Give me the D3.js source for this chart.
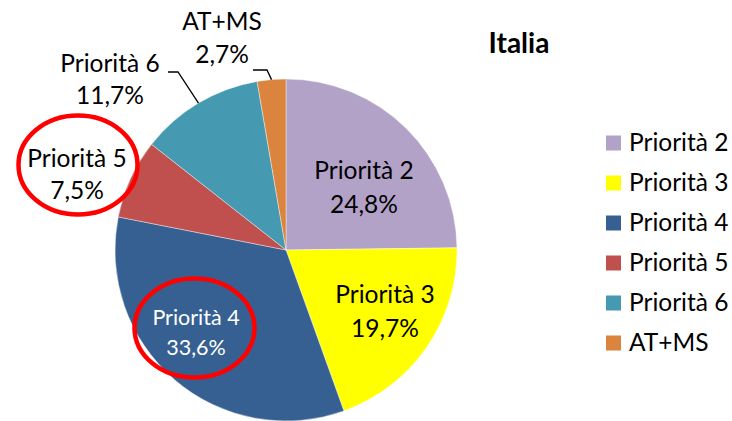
<!DOCTYPE html>
<html>
<head>
<meta charset="utf-8">
<script src="https://cdn.jsdelivr.net/npm/d3@7"></script>
<style>
  html, body { margin: 0; padding: 0; background: #fff; }
  svg { display: block; }
</style>
</head>
<body>
<script>
// chart values
const categories = ["Priorità 2", "Priorità 3", "Priorità 4", "Priorità 5", "Priorità 6", "AT+MS"];
const shares = [24.8, 19.7, 33.6, 7.5, 11.7, 2.7];
const sliceColors = ["#B3A2C7", "#FFFF00", "#376092", "#C0504D", "#4599B0", "#DB843D"];
const title = "Italia";

const width = 732;
const height = 421;
const font = "Lato, 'Open Sans', sans-serif";
const labelSize = 24.5;

// label placement (first baseline, centred), as placed by hand in the original
const labelAt = {
  "Priorità 2": { x: 364, y: 179, dy: 34, size: labelSize, fill: "#000" },
  "Priorità 3": { x: 385, y: 303, dy: 34, size: labelSize, fill: "#000" },
  "Priorità 4": { x: 196, y: 325, dy: 30, size: 21.5, fill: "#fff" },
  "Priorità 5": { x: 77, y: 167, dy: 32, size: labelSize, fill: "#000" },
  "Priorità 6": { x: 110, y: 72, dy: 32, size: labelSize, fill: "#000" },
  "AT+MS": { x: 222, y: 30, dy: 33, size: labelSize, fill: "#000" },
};
// leader lines: start of the elbow, elbow point; end is on the slice edge
const leaders = {
  "Priorità 6": [[168, 72], [178, 72]],
  "AT+MS": [[253, 70], [267, 70]],
};
const highlights = [
  { cx: 78, cy: 165, rx: 59.5, ry: 49.5 },
  { cx: 194.5, cy: 328, rx: 60, ry: 49.5 },
];

const rows = categories.map((name, i) => ({ name, value: shares[i], color: sliceColors[i] }));

const svg = d3.select("body")
  .append("svg")
  .attr("width", width)
  .attr("height", height)
  .attr("viewBox", `0 0 ${width} ${height}`);

svg.append("rect").attr("width", width).attr("height", height).attr("fill", "#fff");

const cx = 286;
const cy = 250;
const radius = 171;

const pie = d3.pie().value((d) => d.value).sort(null);
const arc = d3.arc().innerRadius(0).outerRadius(radius);
const edge = d3.arc().innerRadius(radius).outerRadius(radius);
const arcs = pie(rows);

const chart = svg.append("g").attr("transform", `translate(${cx},${cy})`);

chart.selectAll("path")
  .data(arcs)
  .join("path")
  .attr("d", arc)
  .attr("fill", (d) => d.data.color)
  .attr("stroke", "#fff")
  .attr("stroke-width", 0.4);

// leader lines
arcs.filter((d) => leaders[d.data.name]).forEach((d) => {
  const [ex, ey] = edge.centroid(d);
  const pts = leaders[d.data.name].concat([[ex + cx, ey + cy]]);
  svg.append("path")
    .attr("d", d3.line()(pts))
    .attr("fill", "none")
    .attr("stroke", "#000")
    .attr("stroke-width", 1.3);
});

// slice labels
const fmt = (v) => d3.format(".1f")(v).replace(".", ",") + "%";
arcs.forEach((d) => {
  const p = labelAt[d.data.name];
  const t = svg.append("text")
    .attr("text-anchor", "middle")
    .attr("font-family", font)
    .attr("font-size", p.size)
    .attr("fill", p.fill);
  t.append("tspan").attr("x", p.x).attr("y", p.y).text(d.data.name);
  t.append("tspan").attr("x", p.x).attr("y", p.y + p.dy).text(fmt(d.data.value));
});

// red highlight ellipses
svg.selectAll("ellipse")
  .data(highlights)
  .join("ellipse")
  .attr("cx", (d) => d.cx)
  .attr("cy", (d) => d.cy)
  .attr("rx", (d) => d.rx)
  .attr("ry", (d) => d.ry)
  .attr("fill", "none")
  .attr("stroke", "#FF0000")
  .attr("stroke-width", 4.5);

// title
svg.append("text")
  .attr("x", 519)
  .attr("y", 53)
  .attr("text-anchor", "middle")
  .attr("font-family", font)
  .attr("font-weight", 700)
  .attr("font-size", 28)
  .text(title);

// legend
const legendY = d3.scalePoint().domain(categories).range([143, 343]);
const legend = svg.append("g").selectAll("g")
  .data(rows)
  .join("g")
  .attr("transform", (d) => `translate(606,${legendY(d.name)})`);

legend.append("rect")
  .attr("x", 0)
  .attr("y", -7.5)
  .attr("width", 15)
  .attr("height", 15)
  .attr("fill", (d) => d.color);

legend.append("text")
  .attr("x", 23)
  .attr("y", 8)
  .attr("font-family", font)
  .attr("font-size", labelSize)
  .attr("fill", "#000")
  .text((d) => d.name);
</script>
</body>
</html>
